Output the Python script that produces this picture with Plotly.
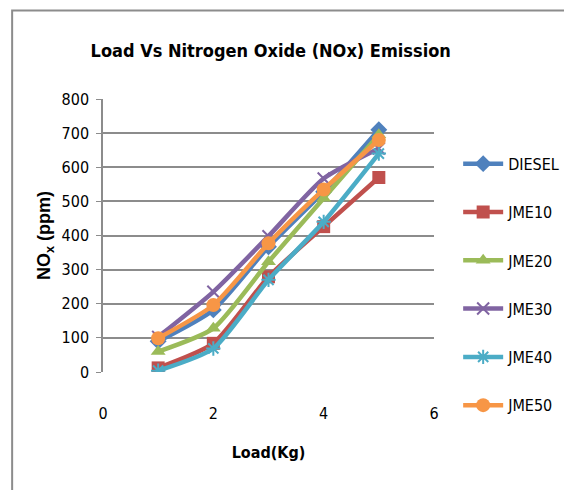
import plotly.graph_objects as go

load = [1, 2, 3, 4, 5]
diesel = [90, 182, 367, 528, 710]
jme10 = [12, 84, 279, 426, 570]
jme20 = [60, 128, 323, 509, 695]
jme30 = [103, 235, 398, 567, 655]
jme40 = [4, 69, 270, 440, 640]
jme50 = [99, 196, 377, 535, 680]

series_names = ["DIESEL", "JME10", "JME20", "JME30", "JME40", "JME50"]
series_values = [diesel, jme10, jme20, jme30, jme40, jme50]
colors = ["#4F81BD", "#C0504D", "#9BBB59", "#8064A2", "#4BACC6", "#F79646"]
symbols = ["diamond", "square", "triangle-up", "x-thin", "asterisk", "circle"]
sizes = [13, 13, 13, 12, 12, 14]

NARROW = "DejaVu Sans Condensed, Liberation Sans Narrow, sans-serif"

fig = go.Figure()
for name, vals, c, s, sz in zip(series_names, series_values, colors, symbols, sizes):
    thin = s in ("x-thin", "asterisk")
    fig.add_trace(go.Scatter(
        x=load, y=vals, name=name, mode="lines+markers",
        legendgroup=name,
        line=dict(color=c, width=4.5, shape="spline", smoothing=0.6),
        marker=dict(symbol=s, size=sz, color=c,
                    line=dict(color=c, width=2 if thin else 0)),
    ))

fig.update_layout(
    width=564, height=490,
    margin=dict(l=103, r=129.5, t=99, b=118, autoexpand=False),
    paper_bgcolor="white", plot_bgcolor="white",
    title=dict(text="<b>Load Vs Nitrogen Oxide (NOx) Emission</b>",
               font=dict(family=NARROW, size=18, color="black"),
               x=0.48, xanchor="center", y=0.897, yanchor="middle"),
    xaxis=dict(range=[0, 6], tickvals=[0, 2, 4, 6], showgrid=False,
               zeroline=False, showline=False,
               ticks="outside", ticklen=27, tickcolor="rgba(0,0,0,0)",
               tickfont=dict(family=NARROW, size=16, color="black"),
               title=dict(text="<b>Load(Kg)</b>",
                          font=dict(family=NARROW, size=16, color="black"),
                          standoff=24)),
    yaxis=dict(range=[0, 800], dtick=100, showgrid=True, gridcolor="#8C8C8C",
               gridwidth=1.5, zeroline=False, showline=True, linecolor="#8C8C8C",
               linewidth=1.5, ticks="outside", ticklen=5, tickcolor="#8C8C8C",
               ticklabelstandoff=4,
               tickfont=dict(family=NARROW, size=16, color="black"),
               title=dict(text="<b>NO<sub>x</sub> (ppm)</b>",
                          font=dict(family="Liberation Sans, Arial, sans-serif",
                                    size=18, color="black"),
                          standoff=6)),
    legend=dict(x=1.073, xanchor="left", y=0.825, yanchor="top",
                font=dict(family=NARROW, size=16, color="black"),
                tracegroupgap=24.5, itemwidth=40, bgcolor="rgba(0,0,0,0)",
                maxheight=480),
    showlegend=True,
    shapes=[dict(type="rect", xref="paper", yref="paper",
                 x0=(12 - 103) / 331.5, x1=(566 - 103) / 331.5,
                 y0=(372 - 495) / 273, y1=(372 - 10.5) / 273,
                 line=dict(color="#8C8C8C", width=2), layer="below")],
)

fig.write_html("out.html")
